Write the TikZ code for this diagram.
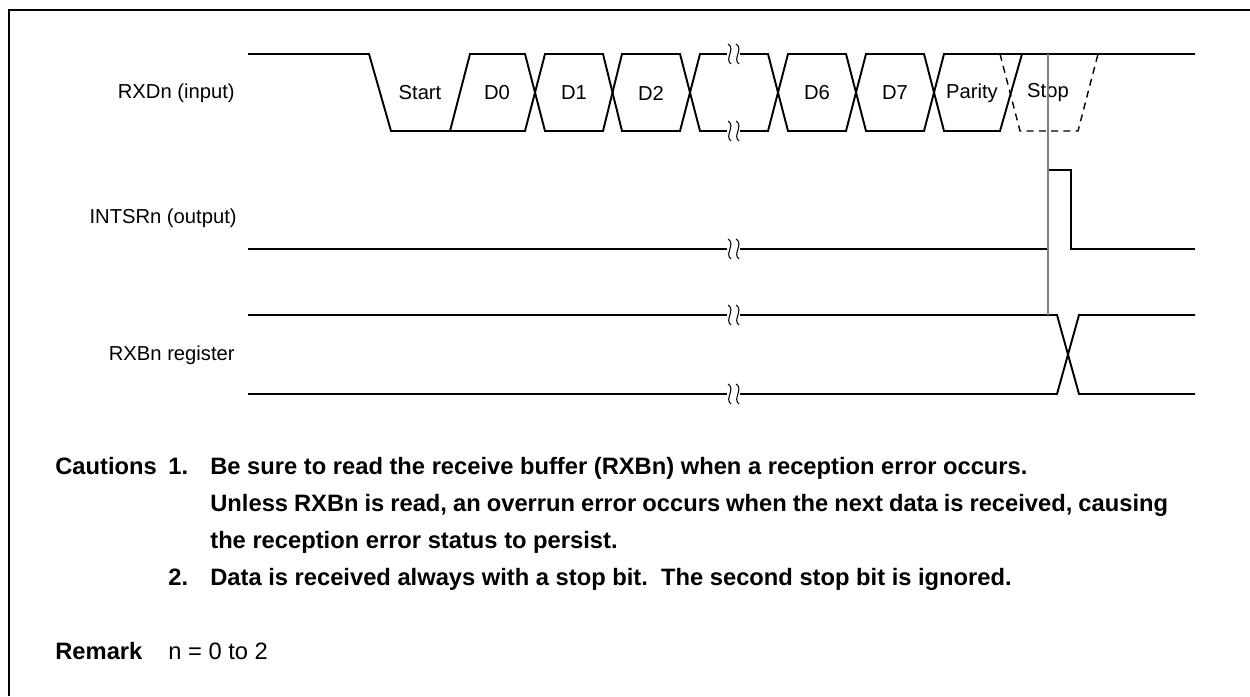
\documentclass[tikz,border=0pt]{standalone}
\usepackage{fontspec}
\setmainfont{Liberation Sans}
\usetikzlibrary{positioning}

% break mark on a waveform line: x, y
\newcommand{\wavebrk}[2]{%
  \fill[white] (#1-2,#2-3) rectangle (#1+11,#2+3);
  \draw[line width=0.6pt] (#1-1,#2-10) .. controls (#1+7,#2-5) and (#1-5,#2+5) .. (#1+2,#2+10);
  \draw[line width=0.6pt] (#1+7,#2-10) .. controls (#1+15,#2-5) and (#1+3,#2+5) .. (#1+10,#2+10);
}

\begin{document}
\begin{tikzpicture}[x=0.02cm, y=-0.02cm,
  wave/.style={line width=1.1pt, line join=miter},
  dashwave/.style={line width=0.8pt, dash pattern=on 4pt off 3pt},
  guide/.style={line width=0.6pt, gray},
  siglabel/.style={anchor=east, inner sep=0pt, font=\fontsize{11.5}{13}\selectfont},
  bitlabel/.style={inner sep=0pt, font=\fontsize{11.5}{13}\selectfont},
  note/.style={anchor=base west, inner sep=0pt, font=\bfseries\fontsize{13.5}{15}\selectfont},
  plain/.style={anchor=base west, inner sep=0pt, font=\fontsize{13.5}{15}\selectfont}]

\useasboundingbox (0,0) rectangle (1250,696);

% Frame
\draw[line width=1.2pt] (9,696) -- (9,10) -- (1250,10);

% Signal names
\node[siglabel] (rxdname) at (235,93) {RXDn (input)};
\node[siglabel] (intname) at (237,218) {INTSRn (output)};
\node[siglabel] (rxbname) at (235,355) {RXBn register};

% RXDn waveform
\draw[wave] (248,54) -- (369,54) -- (391,131) -- (525,131) -- (545,54) -- (603,54) -- (622,131) -- (680,131) -- (700,54) -- (768,54) -- (788,131) -- (846,131) -- (866,54) -- (924,54) -- (944,131) -- (1000,131) -- (1022,54);
\draw[wave] (450,131) -- (470,54) -- (525,54) -- (545,131) -- (603,131) -- (622,54) -- (680,54) -- (700,131) -- (768,131) -- (788,54) -- (846,54) -- (866,131) -- (924,131) -- (944,54) -- (1195,54);
\draw[dashwave] (1000,54) -- (1020,131) -- (1078,131) -- (1098,54);
\wavebrk{729}{54}
\wavebrk{729}{131}

% Bit names
\node[bitlabel] (start) at (420,93) {Start};
\node[bitlabel] (d0) at (497,93) {D0};
\node[bitlabel] (d1) at (574,93) {D1};
\node[bitlabel] (d2) at (651,93) {D2};
\node[bitlabel] (d6) at (817,93) {D6};
\node[bitlabel] (d7) at (895,93) {D7};
\node[bitlabel] (parity) at (972,93) {Parity};
\node[bitlabel] (stop) at (1048,93) {Stop};

% INTSRn waveform
\draw[wave] (248,249) -- (1048,249) -- (1048,170) -- (1071,170) -- (1071,249) -- (1195,249);
\wavebrk{729}{249}

% RXBn register
\draw[wave] (248,315) -- (1057,315) -- (1079,394) -- (1195,394);
\draw[wave] (248,394) -- (1057,394) -- (1079,315) -- (1195,315);
\wavebrk{729}{315}
\wavebrk{729}{394}

% Timing of the stop bit
\draw[guide] (1048,54) -- (1048,315);

% Cautions
\node[note] (caut) at (55,474) {Cautions};
\node[note] (num1) at (168,474) {1.};
\node[note] (c1a) at (210,474) {Be sure to read the receive buffer (RXBn) when a reception error occurs.};
\node[note] (c1b) at (210,511) {\makebox[19.16cm][s]{Unless RXBn is read, an overrun error occurs when the next data is received, causing}};
\node[note] (c1c) at (210,548) {the reception error status to persist.};
\node[note] (num2) at (168,585) {2.};
\node[note] (c2) at (210,585) {Data is received always with a stop bit.\ \ The second stop bit is ignored.};

% Remark
\node[note] (rem) at (55,659) {Remark};
\node[plain] (remtext) at (168,659) {n = 0 to 2};
\end{tikzpicture}
\end{document}
